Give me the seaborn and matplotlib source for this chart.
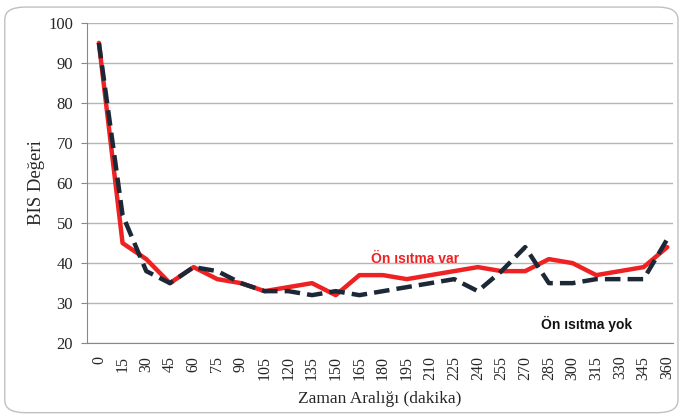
import pandas as pd
import matplotlib.pyplot as plt
from matplotlib.patches import FancyBboxPatch
import seaborn as sns

# Time points (minutes) and BIS values
zaman = list(range(0, 361, 15))
on_isitma_var = [95, 45, 41, 35, 39, 36, 35, 33, 34, 35, 32, 37, 37, 36, 37, 38, 39, 38, 38, 41, 40, 37, 38, 39, 44]
on_isitma_yok = [95, 52, 38, 35, 39, 38, 35, 33, 33, 32, 33, 32, 33, 34, 35, 36, 33, 38, 44, 35, 35, 36, 36, 36, 46]
y_ticks = list(range(20, 101, 10))

df = pd.DataFrame({
    'idx': list(range(len(zaman))) * 2,
    'bis': on_isitma_var + on_isitma_yok,
    'grup': ['var'] * len(zaman) + ['yok'] * len(zaman),
})

sns.set_style('white')
plt.rcParams['font.family'] = ['Liberation Serif', 'DejaVu Serif']

fig = plt.figure(figsize=(6.8, 4.16), dpi=100)
ax = fig.add_axes([0.128, 0.175, 0.862, 0.77])

# grey frame around the whole figure
fig.patches.append(FancyBboxPatch((0.007, 0.008), 0.99, 0.975, boxstyle='round,pad=0,rounding_size=0.03',
                                  transform=fig.transFigure, fill=False, edgecolor='#c0c0c0', linewidth=1.0))

ax.yaxis.grid(True, color='#b5b5b5', linewidth=1.0)
ax.set_axisbelow(True)

sns.lineplot(data=df, x='idx', y='bis', hue='grup', style='grup',
             palette={'var': '#ee2222', 'yok': '#1c2836'},
             dashes={'var': '', 'yok': (3.5, 1.6)}, linewidth=3.2, legend=False, ax=ax)

ax.set_xlim(-0.5, 24.25)
ax.set_ylim(20, 100)
ax.set_yticks(y_ticks)
ax.set_xticks(range(len(zaman)))
ax.set_xticklabels([str(z) for z in zaman], rotation=90, fontsize=11.5)
ax.tick_params(axis='y', labelsize=12, length=4, color='#888888', direction='out', left=True, pad=6)
ax.tick_params(axis='x', length=0, pad=9)

for s in ['top', 'right']:
    ax.spines[s].set_visible(False)
ax.spines['left'].set_color('#888888')
ax.spines['bottom'].set_color('#888888')

ax.set_xlabel('Zaman Aralığı (dakika)', fontsize=12.5, labelpad=8)
ax.set_ylabel('BIS Değeri', fontsize=13.5, labelpad=2)

ax.text(11.5, 41.1, 'Ön ısıtma var', color='#ee2222', fontsize=10, fontweight='bold', va='center',
        family=['Liberation Sans', 'DejaVu Sans'])
ax.text(18.65, 24.8, 'Ön ısıtma yok', color='#111111', fontsize=10, fontweight='bold', va='center',
        family=['Liberation Sans', 'DejaVu Sans'])

plt.savefig('out.png', dpi=100)
